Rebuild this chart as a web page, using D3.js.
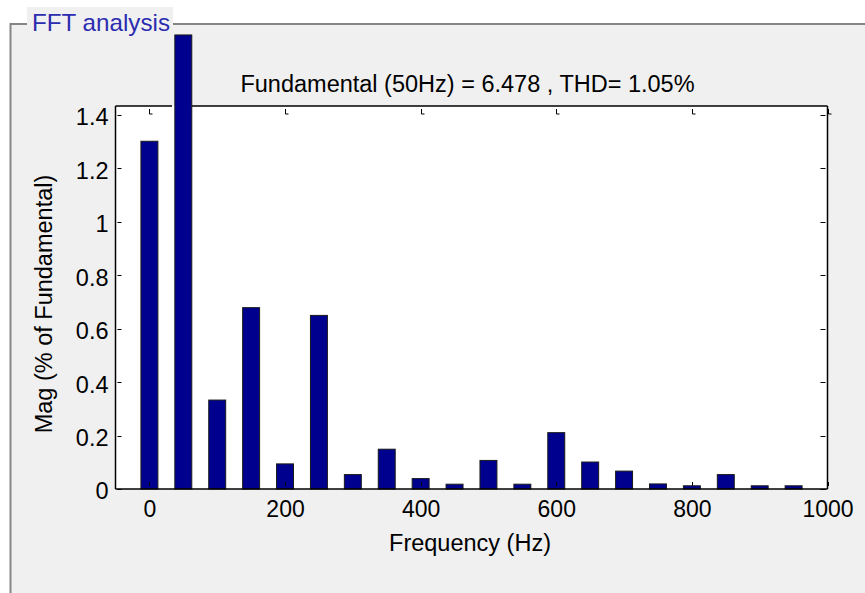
<!DOCTYPE html>
<html>
<head>
<meta charset="utf-8">
<script src="https://cdn.jsdelivr.net/npm/d3@7"></script>
<style>
  html, body { margin: 0; padding: 0; background: #ffffff; }
  svg { display: block; }
  text { font-family: "Liberation Sans", Arial, Helvetica, sans-serif; }
</style>
</head>
<body>
<svg id="chart" width="865" height="593"></svg>
<script>
// ---- data ----
const frequencies = [0, 50, 100, 150, 200, 250, 300, 350, 400, 450, 500, 550, 600, 650, 700, 750, 800, 850, 900, 950];
const magnitudes = [1.302, 1.700, 0.333, 0.679, 0.094, 0.650, 0.054, 0.149, 0.039, 0.018, 0.107, 0.018, 0.211, 0.101, 0.067, 0.019, 0.012, 0.054, 0.012, 0.012];
const xTickValues = [0, 200, 400, 600, 800, 1000];
const yTickValues = [0, 0.2, 0.4, 0.6, 0.8, 1, 1.2, 1.4];
const panelTitle = "FFT analysis";
const chartTitle = "Fundamental (50Hz) = 6.478 , THD= 1.05%";
const xLabel = "Frequency (Hz)";
const yLabel = "Mag (% of Fundamental)";

const data = frequencies.map((f, i) => ({ f, v: magnitudes[i] }));

const svg = d3.select("#chart");
const W = 865, H = 593;
const plot = { left: 115.5, right: 827.5, top: 106, bottom: 489 };

const x = d3.scaleLinear().domain([-50, 1000]).range([plot.left, plot.right]);
const y = d3.scaleLinear().domain([0, 1.434]).range([plot.bottom, plot.top]);
const barW = x(25) - x(0);

// ---- panel (uipanel look) ----
svg.append("rect").attr("x", 0).attr("y", 0).attr("width", W).attr("height", H).attr("fill", "#ffffff");
svg.append("rect").attr("x", 10).attr("y", 23).attr("width", W - 10).attr("height", H - 23).attr("fill", "#f0f0f0");
svg.append("line").attr("x1", 10).attr("y1", 24).attr("x2", W).attr("y2", 24).attr("stroke", "#858585").attr("stroke-width", 2);
svg.append("line").attr("x1", 10.5).attr("y1", 23).attr("x2", 10.5).attr("y2", H).attr("stroke", "#858585").attr("stroke-width", 2);
svg.append("rect").attr("x", 27).attr("y", 7).attr("width", 146).attr("height", 27).attr("fill", "#f0f0f0");
svg.append("text").attr("x", 32).attr("y", 31).attr("font-size", 24).attr("textLength", 138).attr("lengthAdjust", "spacingAndGlyphs")
  .attr("fill", "#2c2cb0").text(panelTitle);

// ---- axes background ----
svg.append("rect")
  .attr("x", plot.left).attr("y", plot.top)
  .attr("width", plot.right - plot.left).attr("height", plot.bottom - plot.top)
  .attr("fill", "#ffffff");

// ---- bars ----
svg.append("g").selectAll("rect").data(data).join("rect")
  .attr("x", d => x(d.f) - barW / 2)
  .attr("y", d => y(d.v))
  .attr("width", barW)
  .attr("height", d => y(0) - y(d.v))
  .attr("fill", "#00008f")
  .attr("stroke", "#1a1a1a")
  .attr("stroke-width", 1);

// ---- axis box ----
const box = svg.append("g").attr("fill", "none").attr("stroke", "#000").attr("stroke-width", 1.5);
box.append("line").attr("x1", plot.left).attr("x2", plot.right).attr("y1", plot.bottom).attr("y2", plot.bottom);
box.append("line").attr("x1", plot.left).attr("x2", plot.left).attr("y1", plot.top).attr("y2", plot.bottom);
box.append("line").attr("x1", plot.right).attr("x2", plot.right).attr("y1", plot.top).attr("y2", plot.bottom);
box.append("line").attr("x1", plot.left).attr("x2", 172).attr("y1", plot.top).attr("y2", plot.top);
box.append("line").attr("x1", 192).attr("x2", plot.right).attr("y1", plot.top).attr("y2", plot.top);

// ---- tick marks (small, inward) ----
const tk = svg.append("g").attr("fill", "none").attr("stroke", "#000").attr("stroke-width", 1);
xTickValues.forEach(v => {
  const px = Math.round(x(v)) + 0.5;
  tk.append("path").attr("d", `M${px},${plot.top + 3}V${plot.top + 8}H${px + 3}`);
  tk.append("path").attr("d", `M${px},${plot.bottom - 7}V${plot.bottom - 3}`);
});
yTickValues.forEach(v => {
  const py = Math.round(y(v)) + 0.5;
  tk.append("path").attr("d", `M${plot.left + 2},${py}H${plot.left + 6}`);
  tk.append("path").attr("d", `M${plot.right - 7},${py}H${plot.right - 2}`);
});

// ---- tick labels via d3 axes (lines hidden) ----
const xAxis = svg.append("g")
  .attr("transform", `translate(0,${plot.bottom})`)
  .call(d3.axisBottom(x).tickValues(xTickValues).tickSize(0).tickPadding(12).tickFormat(d3.format("d")));
xAxis.select(".domain").remove();
xAxis.selectAll("text").attr("font-size", 23).attr("font-family", "Liberation Sans, Arial, sans-serif").attr("fill", "#000").attr("dy", "0.71em");

const yAxis = svg.append("g")
  .attr("transform", `translate(${plot.left},0)`)
  .call(d3.axisLeft(y).tickValues(yTickValues).tickSize(0).tickPadding(7).tickFormat(d => d3.format("~g")(d)));
yAxis.select(".domain").remove();
yAxis.selectAll("text").attr("font-size", 23.5).attr("font-family", "Liberation Sans, Arial, sans-serif").attr("fill", "#000").attr("dy", "0.42em");

// ---- titles ----
svg.append("text").attr("x", (plot.left + plot.right) / 2 - 4).attr("y", 92)
  .attr("text-anchor", "middle").attr("font-size", 23.5).attr("fill", "#000").text(chartTitle);
svg.append("text").attr("x", 470).attr("y", 551)
  .attr("text-anchor", "middle").attr("font-size", 23.5).attr("fill", "#000").text(xLabel);
svg.append("text").attr("transform", "translate(52,304) rotate(-90)")
  .attr("text-anchor", "middle").attr("font-size", 23.5).attr("fill", "#000").text(yLabel);
</script>
</body>
</html>
